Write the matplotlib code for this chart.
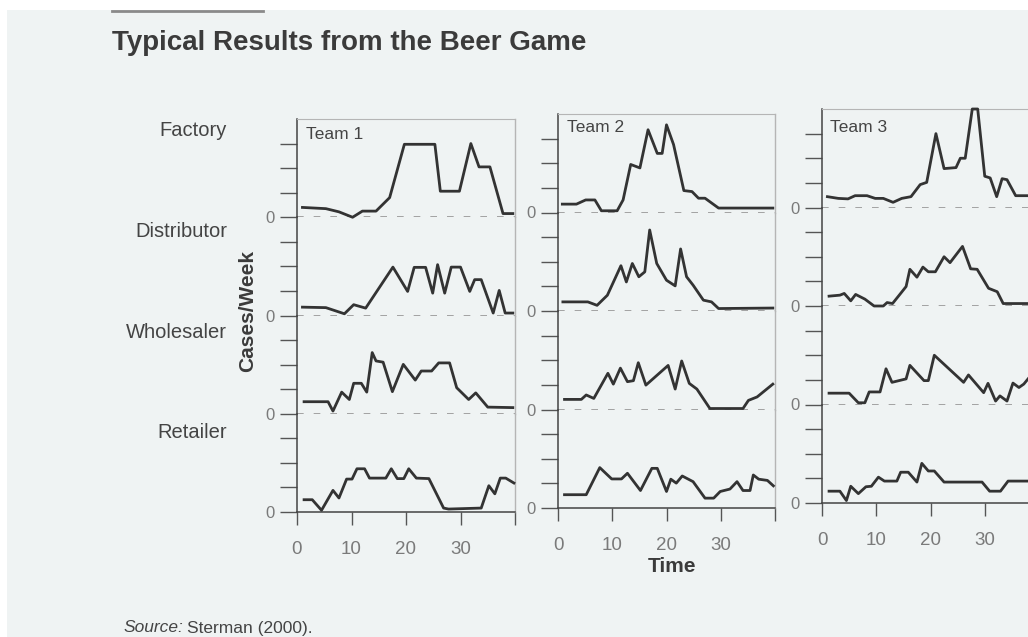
import matplotlib.pyplot as plt
from matplotlib.patches import Rectangle
from matplotlib.lines import Line2D

W, H = 1028, 637
PAPER = '#eff3f3'
INK = '#333333'
GREY = '#7a7a7a'

plt.rcParams['font.family'] = ['Liberation Sans', 'DejaVu Sans']

roles = ['Factory', 'Distributor', 'Wholesaler', 'Retailer']
teams = ['Team 1', 'Team 2', 'Team 3']
x_ticks = [0, 10, 20, 30, 40]
x_tick_labels = ['0', '10', '20', '30', '']

# orders per week (one row = 4 tick units)
t1_factory_wk = [1, 5.3, 7.7, 10.2, 12, 14.5, 17, 19.7, 25.3, 26.3, 29.8, 31.9, 33.4, 35.4, 37.8, 39.6]
t1_factory = [0.4, 0.35, 0.22, 0.0, 0.25, 0.25, 0.8, 2.97, 2.97, 1.06, 1.06, 3.0, 2.05, 2.05, 0.15, 0.15]
t1_distrib_wk = [1, 5.3, 8.7, 10.4, 12.6, 17.6, 20.3, 21.5, 23.6, 24.9, 25.8, 27.1, 28.3, 30, 31.7,
                 32.6, 33.8, 36, 37.1, 38.2, 39.6]
t1_distrib = [0.34, 0.32, 0.07, 0.44, 0.3, 1.97, 0.98, 1.96, 1.96, 0.91, 2.07, 0.91, 1.97, 1.97, 0.98,
              1.46, 1.46, 0.1, 1.02, 0.1, 0.1]
t1_wholesale_wk = [1.3, 5.7, 6.6, 8.2, 9.6, 10.4, 11.8, 12.8, 13.8, 14.5, 15.8, 17.5, 19.5, 21.7, 22.8,
                   24.7, 26, 28, 29.3, 31.5, 32.8, 35, 39.6]
t1_wholesale = [0.49, 0.49, 0.11, 0.88, 0.58, 1.24, 1.24, 0.88, 2.49, 2.15, 2.1, 0.9, 2.01, 1.37, 1.74,
                1.74, 2.07, 2.07, 1.06, 0.58, 0.85, 0.27, 0.25]
t1_retail_wk = [1.3, 2.8, 4.5, 6.6, 7.7, 9.1, 10.1, 11, 12.4, 13.3, 16.3, 17.3, 18.4, 19.6, 20.5, 21.9,
                24.2, 26.9, 27.8, 33.8, 35.2, 36.3, 37.3, 38.3, 39.8]
t1_retail = [0.5, 0.5, 0.07, 0.88, 0.57, 1.34, 1.34, 1.76, 1.76, 1.38, 1.38, 1.76, 1.36, 1.36, 1.76, 1.38,
             1.36, 0.16, 0.12, 0.16, 1.07, 0.74, 1.38, 1.38, 1.18]

t2_factory_wk = [0.8, 3.4, 5.1, 6.8, 8, 10.9, 12, 13.4, 15.1, 16.6, 18.3, 19.2, 20, 21.3, 23.2, 24.7,
                 25.9, 27.1, 29.6, 39.6]
t2_factory = [0.34, 0.34, 0.51, 0.51, 0.07, 0.07, 0.51, 1.95, 1.81, 3.36, 2.4, 2.4, 3.56, 2.76, 0.89, 0.85,
              0.58, 0.58, 0.18, 0.18]
t2_distrib_wk = [0.9, 5.5, 7.2, 9.1, 11.6, 12.6, 13.7, 14.9, 16, 16.9, 18.2, 20, 21.6, 22.6, 23.7, 24.9,
                 26.8, 28.3, 29.6, 39.6]
t2_distrib = [0.37, 0.37, 0.23, 0.64, 1.84, 1.18, 1.93, 1.39, 1.59, 3.29, 1.93, 1.25, 1.02, 2.52, 1.39, 1.05,
              0.44, 0.37, 0.1, 0.12]
t2_wholesale_wk = [1.2, 4.3, 5.2, 6.6, 9.2, 10.2, 11.5, 12.8, 13.9, 14.8, 16.2, 20.3, 21.6, 22.8, 24.2,
                   25.6, 28, 34.1, 35.1, 36.7, 39.6]
t2_wholesale = [0.41, 0.41, 0.59, 0.45, 1.47, 1.03, 1.68, 1.13, 1.17, 1.9, 0.99, 1.79, 0.83, 1.97, 1.06,
                0.83, 0.04, 0.04, 0.37, 0.51, 1.03]
t2_retail_wk = [1.2, 5.2, 7.7, 9.9, 11.7, 12.8, 15.2, 17.3, 18.3, 20, 20.8, 21.8, 22.9, 24.9, 27.1, 28.7,
                29.9, 31.7, 33, 34.1, 35.4, 36, 37, 38.6, 39.7]
t2_retail = [0.54, 0.54, 1.64, 1.18, 1.18, 1.41, 0.71, 1.61, 1.61, 0.67, 1.17, 1.01, 1.3, 1.07, 0.4, 0.4,
             0.67, 0.77, 1.07, 0.71, 0.71, 1.34, 1.17, 1.12, 0.9]

t3_factory_wk = [1, 3, 4.8, 6.1, 8.3, 9.8, 11.3, 13.1, 14.7, 16.4, 18.1, 19.3, 21, 22.5, 24.7, 25.5, 26.4,
                 27.7, 28.7, 30, 31, 32.2, 33.2, 34.1, 35.7, 39.6]
t3_factory = [0.44, 0.37, 0.35, 0.48, 0.48, 0.37, 0.37, 0.21, 0.37, 0.44, 0.93, 1.02, 3.0, 1.58, 1.62, 2.0,
              2.0, 4.0, 4.0, 1.27, 1.2, 0.44, 1.17, 1.13, 0.48, 0.48]
t3_distrib_wk = [1.3, 3.3, 4.1, 5.3, 6.2, 7.9, 9.6, 11.3, 12, 13, 14.6, 15.5, 16.2, 17.5, 18.6, 19.6, 20.9,
                 22.5, 23.6, 25.9, 27.4, 28.6, 30.7, 32.3, 33.4, 39.6]
t3_distrib = [0.4, 0.44, 0.51, 0.21, 0.47, 0.28, 0.0, 0.0, 0.14, 0.1, 0.54, 0.79, 1.49, 1.17, 1.58, 1.39,
              1.39, 2.0, 1.76, 2.42, 1.51, 1.49, 0.72, 0.58, 0.1, 0.1]
t3_wholesale_wk = [1.3, 5, 6.7, 7.9, 8.7, 10.7, 11.8, 12.9, 15.5, 16.2, 18.8, 19.6, 20.7, 26.1, 27, 29.8,
                   30.6, 32, 32.8, 34.1, 35.2, 36.3, 37.2, 38.2, 39.6]
t3_wholesale = [0.46, 0.46, 0.07, 0.07, 0.51, 0.51, 1.45, 0.9, 1.04, 1.59, 0.97, 0.97, 2.0, 0.9, 1.2, 0.48,
                0.86, 0.14, 0.35, 0.14, 0.87, 0.69, 0.83, 1.1, 1.3]
t3_retail_wk = [1.3, 3.3, 4.5, 5.3, 6.7, 8.1, 9.1, 10.4, 11.5, 13.8, 14.5, 15.9, 17.5, 18.4, 19.6, 20.7,
                22.5, 29.5, 30.9, 32.9, 34.3, 39.6]
t3_retail = [0.48, 0.48, 0.1, 0.68, 0.38, 0.66, 0.68, 1.05, 0.89, 0.89, 1.25, 1.25, 0.85, 1.61, 1.3, 1.3,
             0.85, 0.85, 0.48, 0.48, 0.89, 0.89]

series = [
    [(t1_factory_wk, t1_factory), (t1_distrib_wk, t1_distrib),
     (t1_wholesale_wk, t1_wholesale), (t1_retail_wk, t1_retail)],
    [(t2_factory_wk, t2_factory), (t2_distrib_wk, t2_distrib),
     (t2_wholesale_wk, t2_wholesale), (t2_retail_wk, t2_retail)],
    [(t3_factory_wk, t3_factory), (t3_distrib_wk, t3_distrib),
     (t3_wholesale_wk, t3_wholesale), (t3_retail_wk, t3_retail)],
]

# panel boxes in pixels: left, right, top, bottom (bottom = retailer zero line)
boxes = [(297, 515, 119, 512), (558, 775, 114, 508), (822, 1039, 109, 503)]
team_label_pos = [(306, 135), (567, 127), (830, 127)]


def fx(x):
    return x / W


def fy(y):
    return 1 - y / H


fig = plt.figure(figsize=(W / 100, H / 100), dpi=100)
fig.patch.set_facecolor('white')
fig.patches.append(Rectangle((fx(7), 0), 1, fy(10), transform=fig.transFigure,
                             facecolor=PAPER, edgecolor='none', zorder=-10))
fig.lines.append(Line2D([fx(112), fx(263)], [fy(11), fy(11)], transform=fig.transFigure,
                        color='#8a8a8a', lw=2))

for t, (left, right, top, bottom) in enumerate(boxes):
    row_h = (bottom - top) / 4
    for r in range(4):
        ax = fig.add_axes([fx(left), fy(top + (r + 1) * row_h), (right - left) / W, row_h / H])
        ax.set_facecolor('none')
        wk, val = series[t][r]
        ax.plot(wk, val, color=INK, lw=2.0, clip_on=False, zorder=3)
        ax.set_xlim(0, 40)
        ax.set_ylim(0, 4)
        ax.set_yticks([0, 1, 2, 3])
        ax.set_yticklabels(['0', '', '', ''])
        ax.tick_params(axis='y', direction='out', length=12, width=1, color='#555555',
                       pad=4, labelsize=12, labelcolor=GREY)
        ax.spines['left'].set_color('#444444')
        ax.spines['left'].set_linewidth(1.1)
        ax.spines['right'].set_color('#b5b5b5')
        ax.spines['right'].set_linewidth(1)
        ax.spines['top'].set_visible(r == 0)
        ax.spines['top'].set_color('#b5b5b5')
        if r < 3:
            ax.spines['bottom'].set_visible(False)
            ax.axhline(0, color='#959595', lw=1.2, ls=(0, (4, 6)), zorder=1)
            ax.tick_params(axis='x', bottom=False, labelbottom=False)
        else:
            ax.spines['bottom'].set_color('#444444')
            ax.spines['bottom'].set_linewidth(1.1)
            ax.set_xticks(x_ticks)
            ax.set_xticklabels(x_tick_labels)
            ax.tick_params(axis='x', direction='out', length=9, width=1, color='#555555',
                           pad=12, labelsize=13.5, labelcolor=GREY)
    tx, ty = team_label_pos[t]
    fig.text(fx(tx), fy(ty), teams[t], fontsize=12.5, color='#444444', va='center', ha='left')

fig.text(fx(112), fy(50), 'Typical Results from the Beer Game', fontsize=20, fontweight='bold',
         color='#3b3b3b', ha='left', va='baseline')

role_y = [130, 232, 332, 432]
for name, y in zip(roles, role_y):
    fig.text(fx(227), fy(y), name, fontsize=14.5, color='#444444', ha='right', va='center')

fig.text(fx(248), fy(311), 'Cases/Week', fontsize=15, fontweight='bold', color='#3b3b3b',
         rotation=90, ha='center', va='center')
fig.text(fx(672), fy(566), 'Time', fontsize=15, fontweight='bold', color='#3b3b3b',
         ha='center', va='center')

src = fig.text(fx(123), fy(628), 'Source:', fontsize=12.5, style='italic', color='#444444',
               ha='left', va='center')
renderer = fig.canvas.get_renderer()
bb = src.get_window_extent(renderer)
fig.text(bb.x1 / W + 4 / W, fy(628), 'Sterman (2000).', fontsize=12.5, color='#444444',
         ha='left', va='center')

fig.savefig('out.png', dpi=100, facecolor=fig.get_facecolor())
